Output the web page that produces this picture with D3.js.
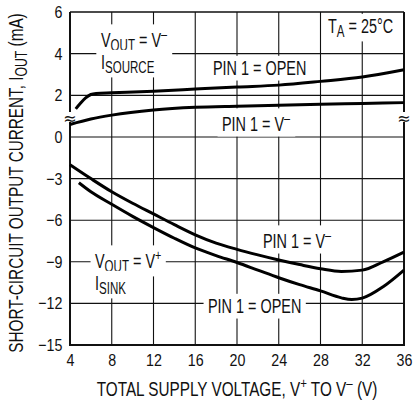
<!DOCTYPE html>
<html><head><meta charset="utf-8">
<script src="https://cdn.jsdelivr.net/npm/d3@7"></script>
<style>
html,body{margin:0;padding:0;background:#fff;}
svg text{font-family:"Liberation Sans",Arial,sans-serif;fill:#111;}
</style></head>
<body>
<svg id="c" width="414" height="402"></svg>
<script>
// ---- data ----
const xTicks = [4, 8, 12, 16, 20, 24, 28, 32, 36];
const yTicks = [-15, -12, -9, -6, -3, 0, 2, 4, 6];
// sourcing, PIN 1 = OPEN
const srcOpenV = [4.55, 5.0, 5.5, 6.0, 6.5, 8, 12, 16, 20, 24, 28, 32, 36];
const srcOpenI = [1.35, 1.62, 1.88, 2.04, 2.09, 2.12, 2.2, 2.3, 2.4, 2.49, 2.67, 2.88, 3.23];
// sourcing, PIN 1 = V-
const srcVmV = [4, 6, 8, 12, 16, 20, 24, 28, 32, 36];
const srcVmI = [0.6, 0.86, 1.05, 1.3, 1.43, 1.48, 1.52, 1.57, 1.61, 1.65];
// sinking, PIN 1 = V-
const snkVmV = [4, 6, 8, 10, 12, 14, 16, 18, 20, 22, 24, 26, 28, 30, 32, 34, 36];
const snkVmI = [-2.0, -3.0, -3.95, -4.78, -5.55, -6.32, -7.05, -7.65, -8.1, -8.5, -8.87, -9.2, -9.5, -9.7, -9.6, -9.0, -8.3];
// sinking, PIN 1 = OPEN
const snkOpV = [4.85, 6, 8, 10, 12, 14, 16, 18, 20, 22, 24, 26, 28, 30, 31, 32, 34, 36];
const snkOpI = [-3.3, -3.95, -4.85, -5.72, -6.53, -7.3, -8.0, -8.55, -9.05, -9.6, -10.15, -10.65, -11.1, -11.6, -11.72, -11.62, -10.8, -9.6];

const svg = d3.select("#c");
const L = 70, R = 404, T = 12, B = 345;
const x = d3.scaleLinear().domain([4, 36]).range([L, R]);
const y = d3.scaleLinear().domain([-15, 0, 6]).range([B, 137, T]);

const FS = 17, SX = 0.84;      // tick labels
const LF = 19.5, LX = 0.74;    // in-plot labels
const TF = 19.5, TX = 0.785;   // axis titles
// grid
const g = svg.append("g");
g.selectAll("line.v").data(xTicks).join("line")
  .attr("x1", d => x(d)).attr("x2", d => x(d)).attr("y1", T).attr("y2", B)
  .attr("stroke", "#111").attr("stroke-width", 1.1);
g.selectAll("line.h").data(yTicks).join("line")
  .attr("x1", L).attr("x2", R).attr("y1", d => y(d)).attr("y2", d => y(d))
  .attr("stroke", "#111").attr("stroke-width", 1.1);

// axes with d3 axis (labels only)
const xAxis = svg.append("g").attr("transform", `translate(0,${B})`)
  .call(d3.axisBottom(x).tickValues(xTicks).tickSize(0).tickPadding(8).tickFormat(d3.format("d")));
xAxis.select(".domain").remove();
xAxis.selectAll("text").attr("font-size", FS).attr("fill", "#111").attr("dy", "0.75em")
  .attr("transform", `scale(${SX},1)`).style("font-family", '"Liberation Sans",Arial,sans-serif');
const yAxis = svg.append("g").attr("transform", `translate(${L},0)`)
  .call(d3.axisLeft(y).tickValues(yTicks).tickSize(0).tickPadding(9).tickFormat(d3.format("d")));
yAxis.select(".domain").remove();
yAxis.selectAll("text").attr("font-size", FS).attr("fill", "#111")
  .attr("transform", `scale(${SX},1)`).style("font-family", '"Liberation Sans",Arial,sans-serif');

// labels with white boxes
const labG = svg.append("g");
function label(px, py, parts) {
  const gg = labG.append("g").attr("transform", `translate(${px},${py}) scale(${LX},1)`);
  const t = gg.append("text").attr("x", 0).attr("y", 0).attr("font-size", LF);
  parts.forEach(p => {
    const s = t.append("tspan").text(p.t);
    if (p.sub) s.attr("font-size", LF * 0.8).attr("dy", 4);
    if (p.sup) s.attr("font-size", LF * 0.75).attr("dy", -8);
    if (p.back) s.attr("dy", p.back);
  });
  const b = t.node().getBBox();
  gg.insert("rect", "text").attr("x", b.x - 6).attr("y", b.y - 1)
    .attr("width", b.width + 12).attr("height", b.height + 2).attr("fill", "#fff");
  return gg;
}
label(101, 47, [{t: "V"}, {t: "OUT", sub: 1}, {t: " = V", back: -4}, {t: "–", sup: 1}]);
label(101, 69, [{t: "I"}, {t: "SOURCE", sub: 1}]);
label(213, 75, [{t: "PIN 1 = OPEN"}]);
label(222, 131, [{t: "PIN 1 = V"}, {t: "–", sup: 1}]);
label(328, 33, [{t: "T"}, {t: "A", sub: 1}, {t: " = 25°C", back: -4}]);
label(95, 268, [{t: "V"}, {t: "OUT", sub: 1}, {t: " = V", back: -4}, {t: "+", sup: 1}]);
label(95, 290, [{t: "I"}, {t: "SINK", sub: 1}]);
label(263, 248, [{t: "PIN 1 = V"}, {t: "–", sup: 1}]);
label(208, 313, [{t: "PIN 1 = OPEN"}]);

// frame
svg.append("line").attr("x1", L).attr("x2", L).attr("y1", T).attr("y2", B).attr("stroke", "#111").attr("stroke-width", 2);
svg.append("line").attr("x1", R).attr("x2", R).attr("y1", T).attr("y2", B).attr("stroke", "#111").attr("stroke-width", 2);
svg.append("line").attr("x1", L).attr("x2", R).attr("y1", T).attr("y2", T).attr("stroke", "#111").attr("stroke-width", 1.2);
svg.append("line").attr("x1", L - 1).attr("x2", R + 1).attr("y1", B).attr("y2", B).attr("stroke", "#111").attr("stroke-width", 2);

// curves
const line = d3.line().x(d => x(d[0])).y(d => y(d[1])).curve(d3.curveMonotoneX);
const series = [[srcOpenV, srcOpenI], [srcVmV, srcVmI], [snkVmV, snkVmI], [snkOpV, snkOpI]];
svg.append("g").selectAll("path").data(series).join("path")
  .attr("d", s => line(s[0].map((v, i) => [v, s[1][i]])))
  .attr("fill", "none").attr("stroke", "#000").attr("stroke-width", 3);

// axis break marks
[L, R].forEach(px => {
  svg.append("rect").attr("x", px - 4).attr("y", 112).attr("width", 8).attr("height", 10).attr("fill", "#fff");
  svg.append("text").attr("x", px).attr("y", 124).attr("text-anchor", "middle")
    .attr("font-size", 16).style("font-family", "DejaVu Sans").text("≈");
});

// axis titles
const xt = svg.append("text").attr("transform", `translate(237,396) scale(${TX},1)`)
  .attr("text-anchor", "middle").attr("font-size", TF);
xt.append("tspan").text("TOTAL SUPPLY VOLTAGE, V");
xt.append("tspan").text("+").attr("font-size", TF * 0.75).attr("dy", -8);
xt.append("tspan").text(" TO V").attr("dy", 8);
xt.append("tspan").text("–").attr("font-size", TF * 0.75).attr("dy", -8);
xt.append("tspan").text(" (V)").attr("dy", 8);

const yt = svg.append("text").attr("transform", `translate(23,183) rotate(-90) scale(${TX},1)`)
  .attr("text-anchor", "middle").attr("font-size", TF);
yt.append("tspan").text("SHORT-CIRCUIT OUTPUT CURRENT, I");
yt.append("tspan").text("OUT").attr("font-size", TF * 0.8).attr("dy", 4);
yt.append("tspan").text(" (mA)").attr("dy", -4);
</script>
</body></html>
